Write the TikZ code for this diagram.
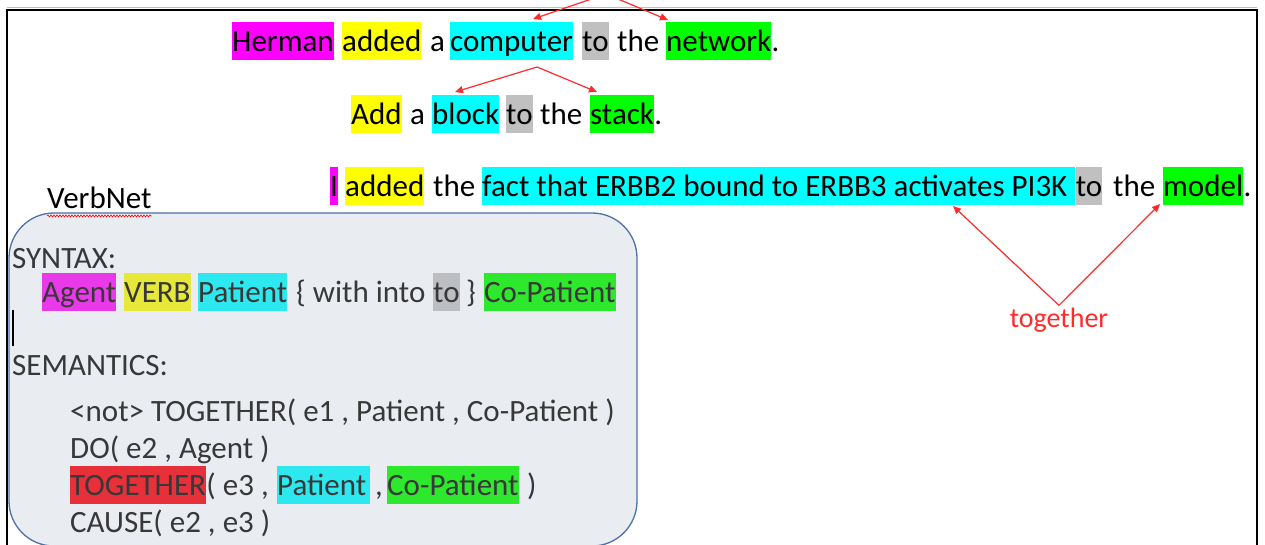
\documentclass[tikz,border=0pt]{standalone}
\usepackage{fontspec}
\setmainfont{Carlito}
\usetikzlibrary{arrows.meta,decorations.pathmorphing}

\definecolor{hlmag}{HTML}{FF00FF}
\definecolor{hlyel}{HTML}{FFFF00}
\definecolor{hlcya}{HTML}{00FFFF}
\definecolor{hlgra}{HTML}{C0C0C0}
\definecolor{hlgre}{HTML}{00FF00}
\definecolor{vnmag}{HTML}{E83AE8}
\definecolor{vnyel}{HTML}{E8E83A}
\definecolor{vncya}{HTML}{2DE8EE}
\definecolor{vngra}{HTML}{BCBEC1}
\definecolor{vngre}{HTML}{2EE82E}
\definecolor{vnred}{HTML}{E8303A}
\definecolor{vnfill}{HTML}{E9ECF1}
\definecolor{vnline}{HTML}{4E71A8}
\definecolor{vntext}{HTML}{383838}
\definecolor{tiered}{HTML}{FF2A2A}

\tikzset{
  wd/.style={anchor=base west, inner sep=0pt, text height=29.5pt, text depth=8.3pt,
    font=\fontsize{31}{37}\selectfont},
  vn/.style={wd, text=vntext},
  tie/.style={-{Triangle[length=8pt,width=7pt]}, draw=tiered, line width=1.2pt},
}

\begin{document}
\begin{tikzpicture}[x=1pt, y=-1pt]
    \useasboundingbox (0,0) rectangle (1265,545);
    \clip (0,0) rectangle (1265,545);
    \draw[black!25, line width=1pt] (7,7.5) -- (1257,7.5);
    \draw[line width=2pt] (7,547) -- (7,10) -- (1257,10) -- (1257,547);

    \def\yA{51.5}
    \def\yB{125}
    \def\yC{197}
    \node[wd, fill=hlmag] (A0_0) at (232,\yA) {Herman};
    \node[wd, fill=hlyel] (A0_1) at (342,\yA) {added};
    \node[wd] (A0_2) at (430,\yA) {a};
    \node[wd, fill=hlcya] (A0_3) at (450,\yA) {computer};
    \node[wd, fill=hlgra] (A0_4) at (582,\yA) {to};
    \node[wd] (A0_5) at (617,\yA) {the};
    \node[wd, fill=hlgre] (A0_6) at (666,\yA) {network};
    \node[wd] (A0_7) at (A0_6.base east) {.};

    \node[wd, fill=hlyel] (A1_0) at (351,\yB) {Add};
    \node[wd] (A1_1) at (410,\yB) {a};
    \node[wd, fill=hlcya] (A1_2) at (432,\yB) {block};
    \node[wd, fill=hlgra] (A1_3) at (506,\yB) {to};
    \node[wd] (A1_4) at (540,\yB) {the};
    \node[wd, fill=hlgre] (A1_5) at (590,\yB) {stack};
    \node[wd] (A1_6) at (A1_5.base east) {.};

    \node[wd, fill=hlmag] (A2_0) at (330,\yC) {I};
    \node[wd, fill=hlyel] (A2_1) at (345,\yC) {added};
    \node[wd] (A2_2) at (433,\yC) {the};
    \node[wd, fill=hlcya] (A2_3) at (482,\yC) {fact that ERBB2 bound to ERBB3 activates PI3K\kern8pt};
    \node[wd, fill=hlgra] (A2_4) at (A2_3.base east) {to};
    \node[wd] (A2_5) at (1113,\yC) {the};
    \node[wd, fill=hlgre] (A2_6) at (1163,\yC) {model};
    \node[wd] (A2_7) at (A2_6.base east) {.};

    % VerbNet frame
    \draw[vnline, fill=vnfill, line width=1.3pt, rounded corners=45pt] (9,213) rectangle (637,546);
    \node[wd] (B0) at (47,209) {VerbNet};
    \draw[red, line width=0.6pt, decorate, decoration={snake, amplitude=1pt, segment length=3pt}]
      ([yshift=-7pt]B0.base west) -- ([yshift=-7pt]B0.base east);

    \node[vn] (C0) at (12,268) {SYNTAX:};
    \node[vn, fill=vnmag] (C1_0) at (42,302.5) {Agent};
    \node[vn, fill=vnyel] (C1_1) at (124,302.5) {VERB};
    \node[vn, fill=vncya] (C1_2) at (198,302.5) {Patient};
    \node[vn] (C1_3) at (296,302.5) {\{ with into};
    \node[vn, fill=vngra] (C1_4) at (433,302.5) {to};
    \node[vn] (C1_5) at (466,302.5) {\}};
    \node[vn, fill=vngre] (C1_6) at (484,302.5) {Co-Patient};
    \draw[line width=1.3pt] (13,310) -- (13,346);

    \node[vn] (D0) at (12,375) {SEMANTICS:};
    \node[vn] (D1) at (70,421) {<not> TOGETHER( e1 , Patient , Co-Patient )};
    \node[vn] (D2) at (70,458) {DO( e2 , Agent )};
    \node[vn, fill=vnred] (D3_0) at (70,495.5) {TOGETHER};
    \node[vn] (D3_1) at (D3_0.base east) {( e3 ,};
    \node[vn, fill=vncya] (D3_2) at (277,495.5) {Patient\kern4pt};
    \node[vn] (D3_3) at (375,495.5) {,};
    \node[vn, fill=vngre] (D3_4) at (387,495.5) {Co-Patient};
    \node[vn] (D3_5) at (527,495.5) {)};
    \node[vn] (D4) at (70,532) {CAUSE( e2 , e3 )};

    % red links
    \node[anchor=base, inner sep=2pt, text=tiered, font=\fontsize{28}{34}\selectfont] (T) at (1059,327) {together};
    \coordinate (T_a) at (953,206);
    \coordinate (T_b) at (1160,204);
    \coordinate (P0) at (606,-6);
    \coordinate (P0_a) at (533,19);
    \coordinate (P0_b) at (668,20);
    \coordinate (P1) at (537,67);
    \coordinate (P1_a) at (455,92);
    \coordinate (P1_b) at (597,92);
    \path (T.north) edge [tie] (T_a);
    \path (T.north) edge [tie] (T_b);
    \path (P0) edge [tie] (P0_a);
    \path (P0) edge [tie] (P0_b);
    \path (P1) edge [tie] (P1_a);
    \path (P1) edge [tie] (P1_b);
  \end{tikzpicture}
\end{document}
